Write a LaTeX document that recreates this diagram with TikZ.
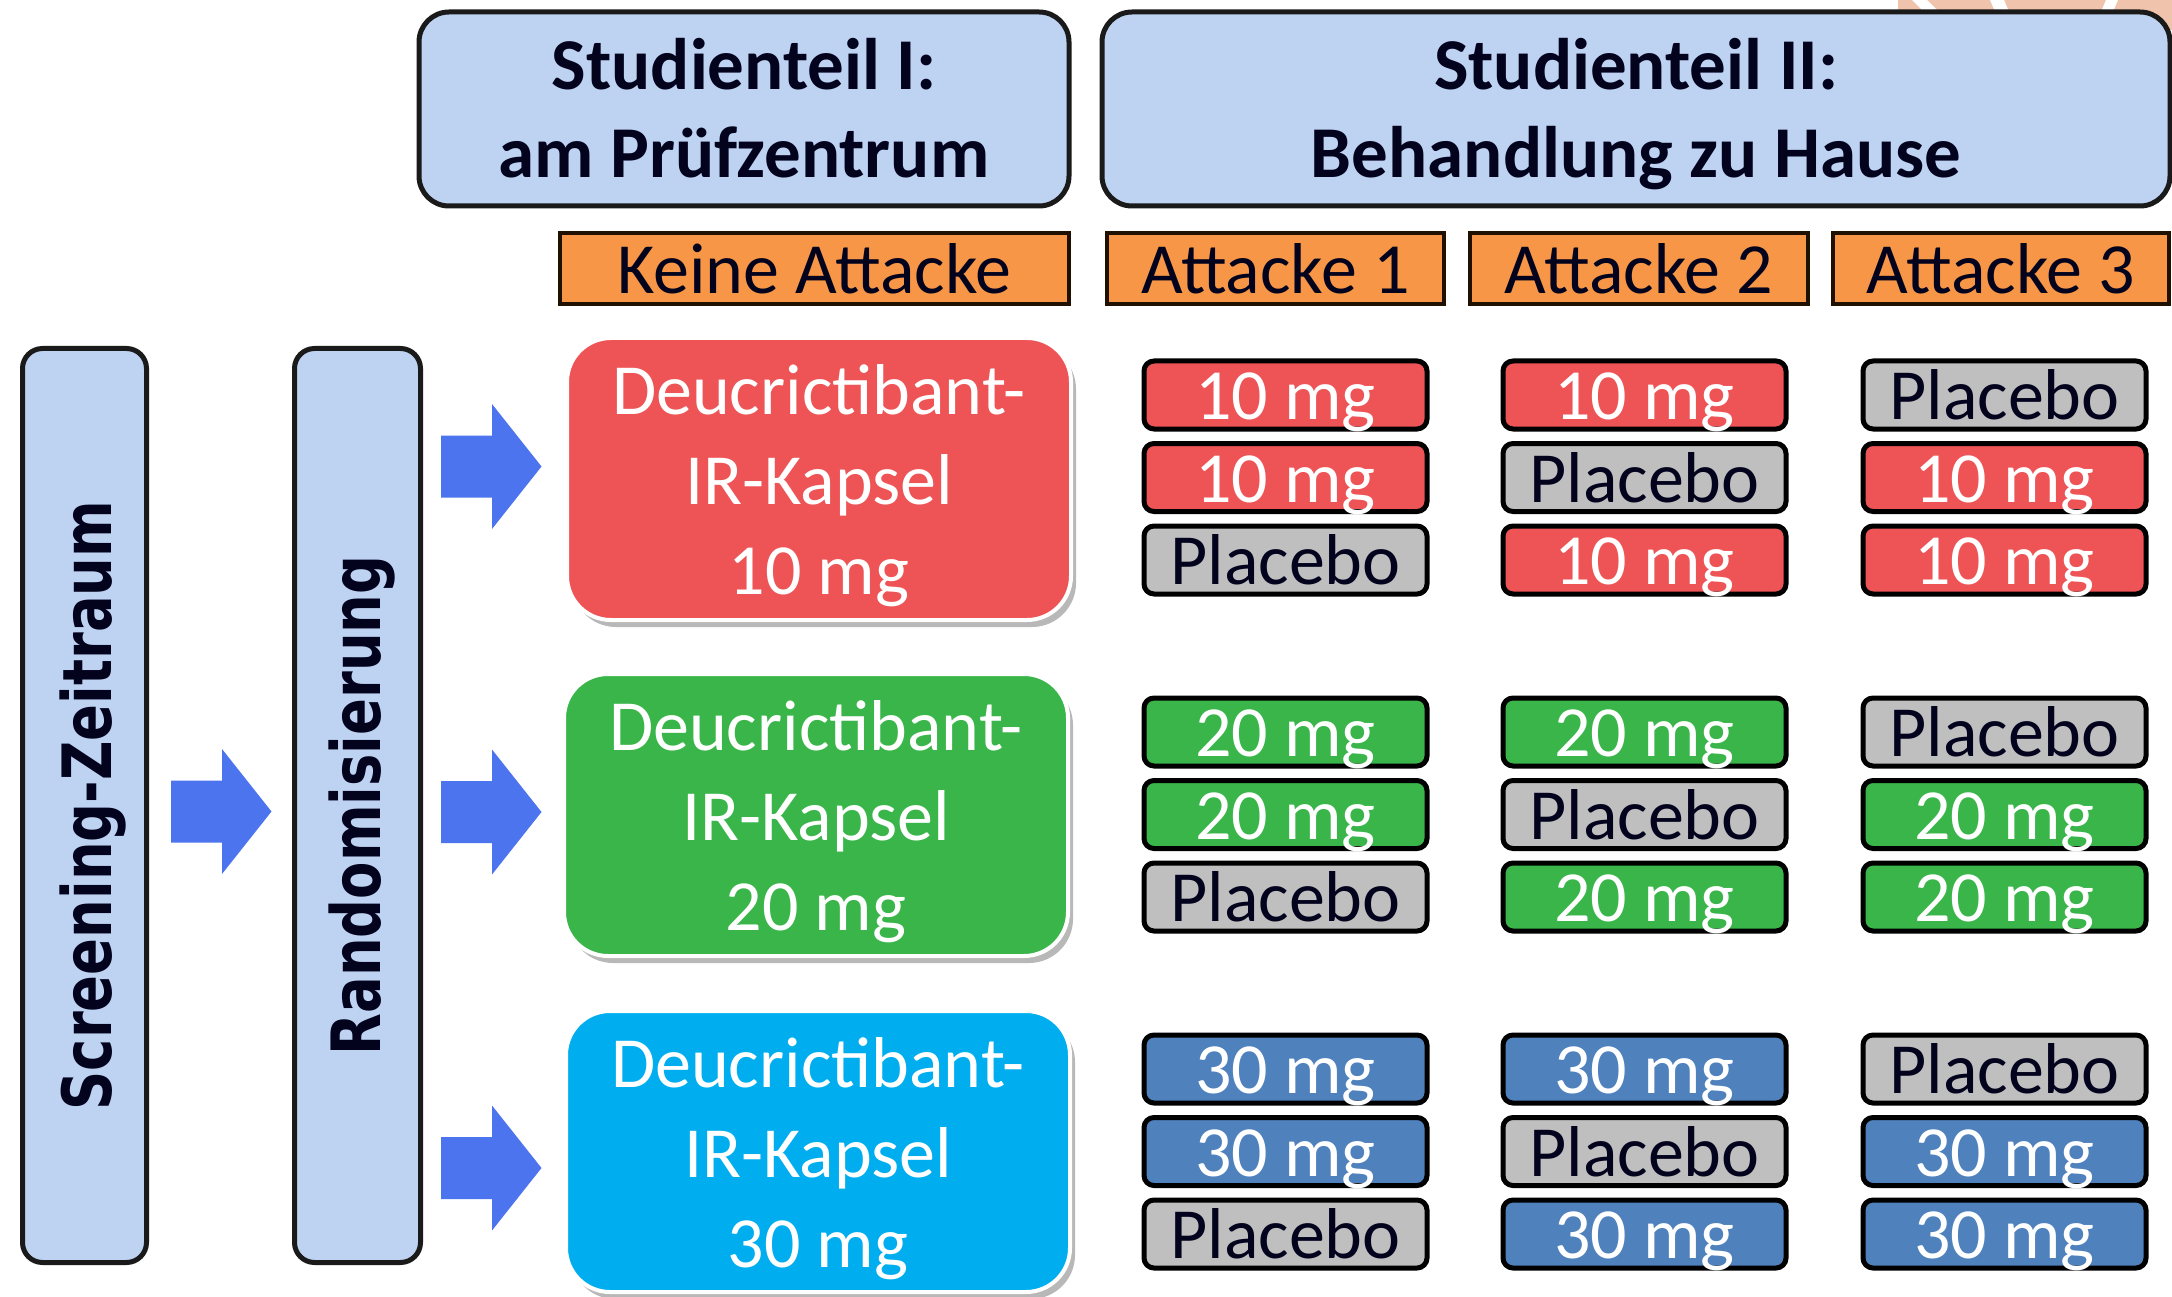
\documentclass[tikz,border=0pt]{standalone}
\usepackage{graphicx}
\usepackage{fontspec}
\setmainfont{Carlito}
\newfontfamily\vfont{DejaVu Sans}
\usetikzlibrary{shadows}
\definecolor{hdrblue}{RGB}{190,211,242}
\definecolor{orng}{RGB}{246,150,70}
\definecolor{orngline}{RGB}{32,16,0}
\definecolor{outl}{RGB}{26,26,26}
\definecolor{dark}{RGB}{3,3,30}
\definecolor{bred}{RGB}{238,84,86}
\definecolor{bgreen}{RGB}{57,181,74}
\definecolor{bcyan}{RGB}{0,174,239}
\definecolor{dsteel}{RGB}{79,129,189}
\definecolor{pgrey}{RGB}{191,191,191}
\definecolor{arrblue}{RGB}{76,116,238}
\definecolor{peach}{RGB}{240,196,172}
\begin{document}
\begin{tikzpicture}[x=1pt,y=-1pt,
  hdrbox/.style={draw=outl, line width=5pt, fill=hdrblue, rounded corners=30pt, inner sep=0pt,
    text=dark, font=\bfseries\fontsize{73}{88}\selectfont, anchor=north west},
  bigbox/.style={draw=white, line width=4pt, rounded corners=44pt, inner sep=0pt, text=white,
    font=\fontsize{72}{90}\selectfont, anchor=north west, minimum width=504pt,
    text height=76pt, text depth=206pt,
    drop shadow={shadow xshift=5pt, shadow yshift=-7pt, opacity=0.28, fill=black}},
  orangebox/.style={draw=orngline, line width=4pt, fill=orng, inner sep=0pt, text=dark,
    text height=61pt, text depth=10pt, font=\fontsize{72}{86}\selectfont, anchor=north west},
  smallbox/.style={draw=black, line width=5pt, rounded corners=10pt, inner sep=0pt,
    minimum width=283pt, text height=58.5pt, text depth=9.5pt,
    font=\fontsize{72}{86}\selectfont, anchor=north west},
  sidebox/.style={draw=outl, line width=5pt, fill=hdrblue, rounded corners=20pt, inner sep=0pt,
    rotate=90, text=dark, font=\vfont\bfseries\fontsize{68}{80}\selectfont, minimum width=914pt},
  barr/.pic={\fill[arrblue] (0,-31) -- (51,-31) -- (51,-62.5) -- (100.5,0) -- (51,62.5) -- (51,31) -- (0,31) -- cycle;}
]
\useasboundingbox (0,0) rectangle (2172,1297);
\fill[white] (0,0) rectangle (2172,1297);

% faint background fragment at top right
\fill[peach] (1898,0) rectangle (2172,30);
\fill[white] (1912,0) -- (1927,0) -- (1941,14) -- (1926,14) -- cycle;
\fill[white] (1990,0) -- (2004,0) -- (2010,14) -- (1996,14) -- cycle;
\fill[white] (2106,0) -- (2118,0) -- (2112,14) -- (2100,14) -- cycle;

% headers
\node[hdrbox, minimum width=650pt, text height=77.5pt, text depth=116.5pt] (hdrI) at (416.5,9.5)
  {\begin{tabular}[t]{@{}c@{}}Studienteil I:\\am Prüfzentrum\end{tabular}};
\node[hdrbox, minimum width=1068pt, text height=77.5pt, text depth=116.5pt] (hdrII) at (1099.5,9.5)
  {\begin{tabular}[t]{@{}c@{}}Studienteil II:\\Behandlung zu Hause\end{tabular}};

% orange labels
\node[orangebox, minimum width=509pt] (keine) at (558,231) {Keine Attacke};
\node[orangebox, minimum width=337pt] (att1) at (1105,231) {Attacke 1};
\node[orangebox, minimum width=338pt] (att2) at (1468,231) {Attacke 2};
\node[orangebox, minimum width=336pt] (att3) at (1831,231) {Attacke 3};

% side boxes
\node[sidebox, text height=88.5pt, text depth=35.5pt] (scr) at (84.5,805.5)
  {\scalebox{0.8}[1]{Screening-Zeitraum}};
\node[sidebox, text height=86pt, text depth=40pt] (rand) at (357.5,805.5)
  {\scalebox{0.8}[1]{Randomisierung}};

% block arrows
\pic at (171,811.5) {barr};
\pic at (441,466.5) {barr};
\pic at (441,812) {barr};
\pic at (441,1168) {barr};

% big dose boxes
\node[bigbox, fill=bred] (red) at (565,336)
  {\begin{tabular}[t]{@{}c@{}}Deucrictibant-\\IR-Kapsel\\10 mg\end{tabular}};
\node[bigbox, fill=bgreen] (green) at (562,672)
  {\begin{tabular}[t]{@{}c@{}}Deucrictibant-\\IR-Kapsel\\20 mg\end{tabular}};
\node[bigbox, fill=bcyan, text height=76pt, text depth=205pt] (blue) at (564,1009)
  {\begin{tabular}[t]{@{}c@{}}Deucrictibant-\\IR-Kapsel\\30 mg\end{tabular}};

% small boxes
\foreach \g/\gt/\fc/\dt in {a/356/bred/10, b/693/bgreen/20, c/1030/dsteel/30}{
  \foreach \c/\cx in {1/1141.5, 2/1500.5, 3/1860.5}{
    \foreach \r in {0,1,2}{
      \pgfmathtruncatemacro\pl{(\r+\c==3) ? 1 : 0}
      \ifnum\pl=1
        \node[smallbox, fill=pgrey, text=dark] (s\g\c\r) at (\cx,\gt+2.5+\r*82.5) {Placebo};
      \else
        \node[smallbox, fill=\fc, text=white] (s\g\c\r) at (\cx,\gt+2.5+\r*82.5) {\dt\ mg};
      \fi
    }
  }
}
\end{tikzpicture}
\end{document}
